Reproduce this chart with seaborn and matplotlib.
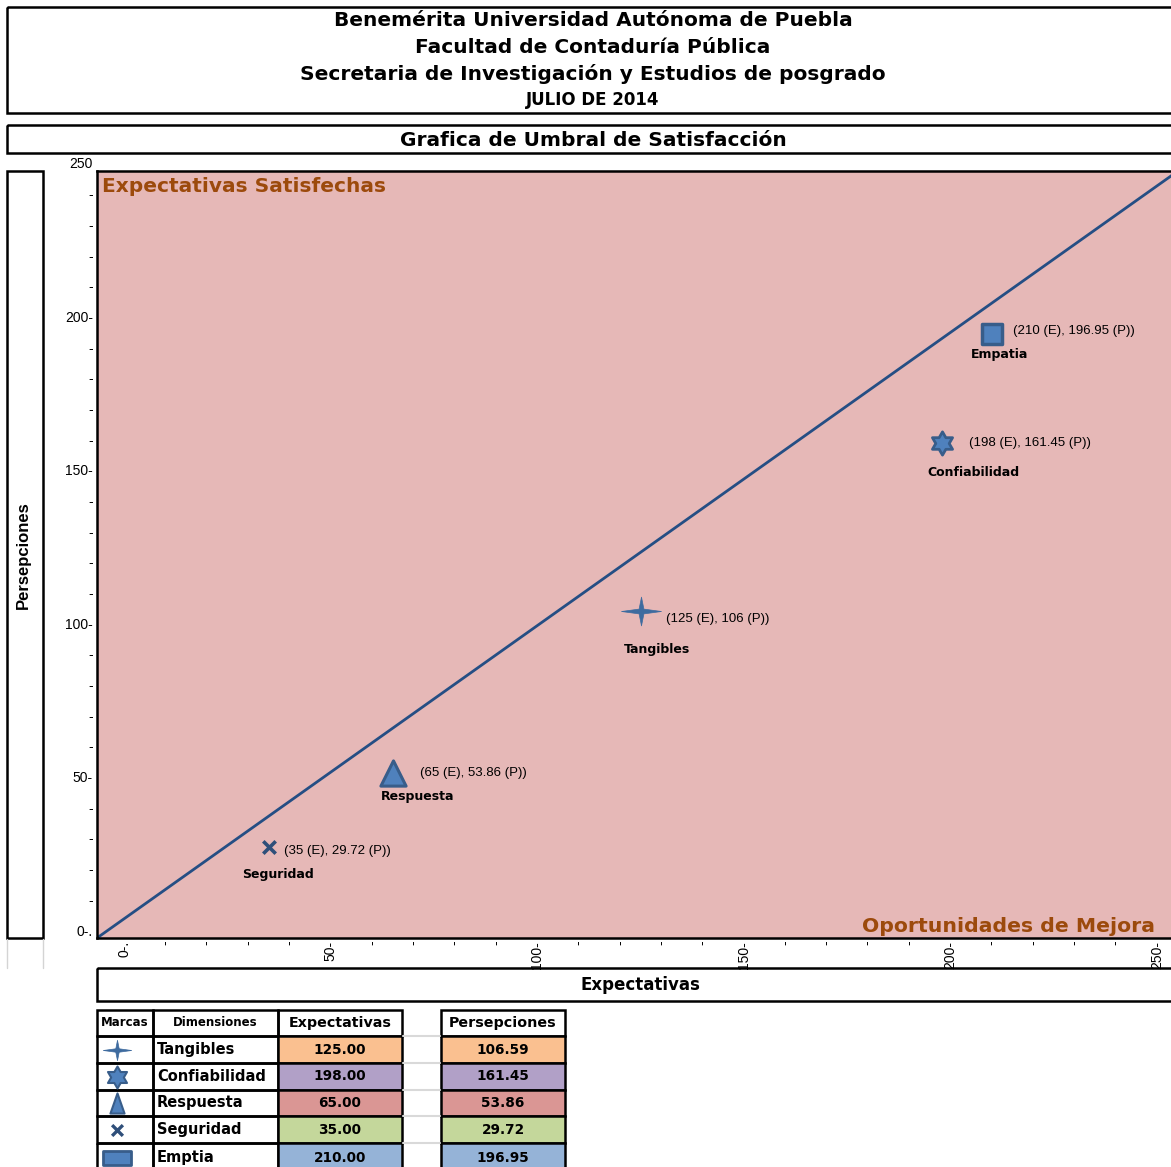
import matplotlib
matplotlib.use("Agg")
import matplotlib.pyplot as plt
import matplotlib.transforms as mtransforms
from matplotlib.patches import Rectangle
from matplotlib.path import Path
import numpy as np
import pandas as pd
import seaborn as sns

# data
dimensiones = ["Tangibles", "Confiabilidad", "Respuesta", "Seguridad", "Empatia"]
nombres_tabla = ["Tangibles", "Confiabilidad", "Respuesta", "Seguridad", "Emptia"]
expectativas = [125.00, 198.00, 65.00, 35.00, 210.00]
persepciones = [106.59, 161.45, 53.86, 29.72, 196.95]
etiquetas = ["(125 (E), 106 (P))", "(198 (E), 161.45 (P))", "(65 (E), 53.86 (P))",
             "(35 (E), 29.72 (P))", "(210 (E), 196.95 (P))"]
colores_tabla = ["#FAC090", "#B1A0C7", "#DA9694", "#C4D79B", "#95B3D7"]
encabezado = ["Benemérita Universidad Autónoma de Puebla",
              "Facultad de Contaduría Pública",
              "Secretaria de Investigación y Estudios de posgrado"]
fecha = "JULIO DE 2014"
titulo = "Grafica de Umbral de Satisfacción"

df = pd.DataFrame({"dim": dimensiones, "E": expectativas, "P": persepciones})

sns.set_style("white")
plt.rcParams["font.family"] = ["Liberation Sans", "DejaVu Sans"]
plt.rcParams["text.color"] = "black"
plt.rcParams["xtick.color"] = "black"
plt.rcParams["ytick.color"] = "black"

# wide bold face for titles and table text
ANCHA = dict(family="DejaVu Sans", fontweight="bold")

W, H = 1171, 1167
fig = plt.figure(figsize=(W / 100, H / 100), dpi=100)

# background layer in pixel coordinates (boxes, table)
bg = fig.add_axes([0, 0, 1, 1])
bg.set_xlim(0, W)
bg.set_ylim(H, 0)
bg.axis("off")


def box(x0, y0, x1, y1, fc="none", lw=1.8):
    bg.add_patch(Rectangle((x0, y0), x1 - x0, y1 - y0, facecolor=fc,
                           edgecolor="black", lw=lw))


box(7, 7, 1185, 113)
box(7, 125, 1185, 153)
box(7, 171, 43, 938)
box(97, 968, 1185, 1001)

for i, linea in enumerate(encabezado):
    bg.text(593, 21 + i * 26.5, linea, ha="center", va="center",
            fontsize=14.5, **ANCHA)
bg.text(593, 100, fecha, ha="center", va="center", fontsize=12, **ANCHA)
bg.text(593, 140, titulo, ha="center", va="center", fontsize=14.5, **ANCHA)
bg.text(23, 555, "Persepciones", rotation=90, ha="center", va="center",
        fontsize=12, fontweight="bold")
bg.text(640, 985, "Expectativas", ha="center", va="center", fontsize=12, **ANCHA)
for gx in (7, 43):
    bg.plot([gx, gx], [939, 968], color="#D4D4D4", lw=1)

# marker shapes
estrella4 = Path([(0, 0.72), (0.12, 0.12), (1, 0), (0.12, -0.12), (0, -0.72),
                  (-0.12, -0.12), (-1, 0), (-0.12, 0.12), (0, 0.72)],
                 [Path.MOVETO] + [Path.LINETO] * 7 + [Path.CLOSEPOLY])
hexagrama = Path.unit_regular_star(6, innerCircle=0.577)
triangulo_alto = Path([(0, 1), (0.7, -1), (-0.7, -1), (0, 1)],
                      [Path.MOVETO, Path.LINETO, Path.LINETO, Path.CLOSEPOLY])
rectangulo = Path([(-1, -0.5), (1, -0.5), (1, 0.5), (-1, 0.5), (-1, -0.5)],
                  [Path.MOVETO] + [Path.LINETO] * 3 + [Path.CLOSEPOLY])

fill = "#4F81BD"
edge = "#385D8A"
estilos = [
    dict(marker=estrella4, s=830, color="#3E6B9F", edgecolor="#3E6B9F", linewidth=0.5),
    dict(marker=hexagrama, s=280, color=fill, edgecolor=edge, linewidth=2),
    dict(marker="^", s=330, color=fill, edgecolor=edge, linewidth=2.2),
    dict(marker="x", s=80, color="#2F4F7A", linewidth=2.6),
    dict(marker="s", s=190, color=fill, edgecolor=edge, linewidth=2.5),
]
# text offsets (pixels) relative to each marker
off_coord = [(25, -8), (27, 0), (27, 0), (15, -4), (21, 3)]
off_nombre = [(-17, -39), (-15, -30), (-12, -24), (-27, -28), (-21, -21)]

# main plot
ax = fig.add_axes([97 / W, 1 - 938 / H, (1178 - 97) / W, 767 / H])
ax.set_facecolor("#E6B8B7")
ax.set_xlim(-6.6, 255.1)
ax.set_ylim(0, 250)
for side in ("top", "left", "bottom"):
    ax.spines[side].set_color("black")
    ax.spines[side].set_linewidth(1.8)
ax.spines["right"].set_visible(False)

ax.plot([0, 1], [0, 1], transform=ax.transAxes, color="#254E84", lw=2, zorder=2)

for i, row in df.iterrows():
    sns.scatterplot(x=[row["E"]], y=[row["P"]], ax=ax, zorder=3, legend=False,
                    **estilos[i])
    ax.annotate(etiquetas[i], xy=(row["E"], row["P"]), xytext=off_coord[i],
                textcoords="offset pixels", ha="left", va="center", fontsize=9.5)
    ax.annotate(row["dim"], xy=(row["E"], row["P"]), xytext=off_nombre[i],
                textcoords="offset pixels", ha="left", va="center",
                fontsize=9, **ANCHA)

ax.text(102, 187, "Expectativas Satisfechas", transform=bg.transData,
        ha="left", va="center", fontsize=14.5, color="#9C4A0C", **ANCHA)
ax.text(1155, 927, "Oportunidades de Mejora", transform=bg.transData,
        ha="right", va="center", fontsize=14.7, color="#9C4A0C", **ANCHA)

ticks = list(range(0, 251, 10))


def etiqueta_tick(v):
    if v == 0:
        return "0-."
    if v % 50 == 0:
        return f"{v}-"
    return "-"


ylabels = [etiqueta_tick(v) for v in ticks]
ylabels[-1] = "250"
ax.set_yticks(ticks)
ax.set_yticklabels(ylabels, fontsize=10)
ax.set_xticks(ticks)
ax.set_xticklabels([etiqueta_tick(v) for v in ticks], fontsize=10, rotation=90,
                   ha="center", va="top")
ax.tick_params(axis="both", length=0)
ax.tick_params(axis="y", pad=3)
ax.tick_params(axis="x", pad=2)
desplaza = mtransforms.ScaledTranslation(0, 8 / 100, fig.dpi_scale_trans)
for lab in ax.get_yticklabels():
    lab.set_transform(lab.get_transform() + desplaza)

# table
cols = [97, 153, 278, 402, 441, 565]
filas = [1010, 1036, 1063, 1090, 1116, 1143, 1172]
box(cols[0], filas[0], cols[1], filas[1])
box(cols[1], filas[0], cols[2], filas[1])
box(cols[2], filas[0], cols[3], filas[1])
box(cols[4], filas[0], cols[5], filas[1])
bg.text(125, 1023, "Marcas", ha="center", va="center", fontsize=8.5, **ANCHA)
bg.text(215, 1023, "Dimensiones", ha="center", va="center", fontsize=8.5, **ANCHA)
bg.text(340, 1023, "Expectativas", ha="center", va="center", fontsize=10.3, **ANCHA)
bg.text(503, 1023, "Persepciones", ha="center", va="center", fontsize=10.3, **ANCHA)

tabla_marcas = [
    dict(marker=estrella4, s=420, color="#3E6B9F", edgecolor="#3E6B9F", linewidth=0.5),
    dict(marker=hexagrama, s=250, color=fill, edgecolor=edge, linewidth=1.5),
    dict(marker=triangulo_alto, s=210, color=fill, edgecolor=edge, linewidth=1.5),
    dict(marker="x", s=60, color="#2F4F7A", linewidth=2.4),
    dict(marker=rectangulo, s=380, color=fill, edgecolor=edge, linewidth=2),
]
for i in range(len(nombres_tabla)):
    y0, y1 = filas[i + 1], filas[i + 2]
    yc = (y0 + y1) / 2
    box(cols[0], y0, cols[1], y1)
    box(cols[1], y0, cols[2], y1)
    box(cols[2], y0, cols[3], y1, fc=colores_tabla[i])
    box(cols[4], y0, cols[5], y1, fc=colores_tabla[i])
    bg.plot([cols[3] + 1, cols[4] - 1], [y0, y0], color="#D9D9D9", lw=1.5)
    bg.text(157, yc, nombres_tabla[i], ha="left", va="center", fontsize=10.5,
            **ANCHA)
    bg.text(340, yc, f"{expectativas[i]:.2f}", ha="center", va="center",
            fontsize=9.8, **ANCHA)
    bg.text(503, yc, f"{persepciones[i]:.2f}", ha="center", va="center",
            fontsize=9.8, **ANCHA)
    bg.scatter([117], [yc], zorder=3, **tabla_marcas[i])

fig.savefig("out.png", dpi=100)
